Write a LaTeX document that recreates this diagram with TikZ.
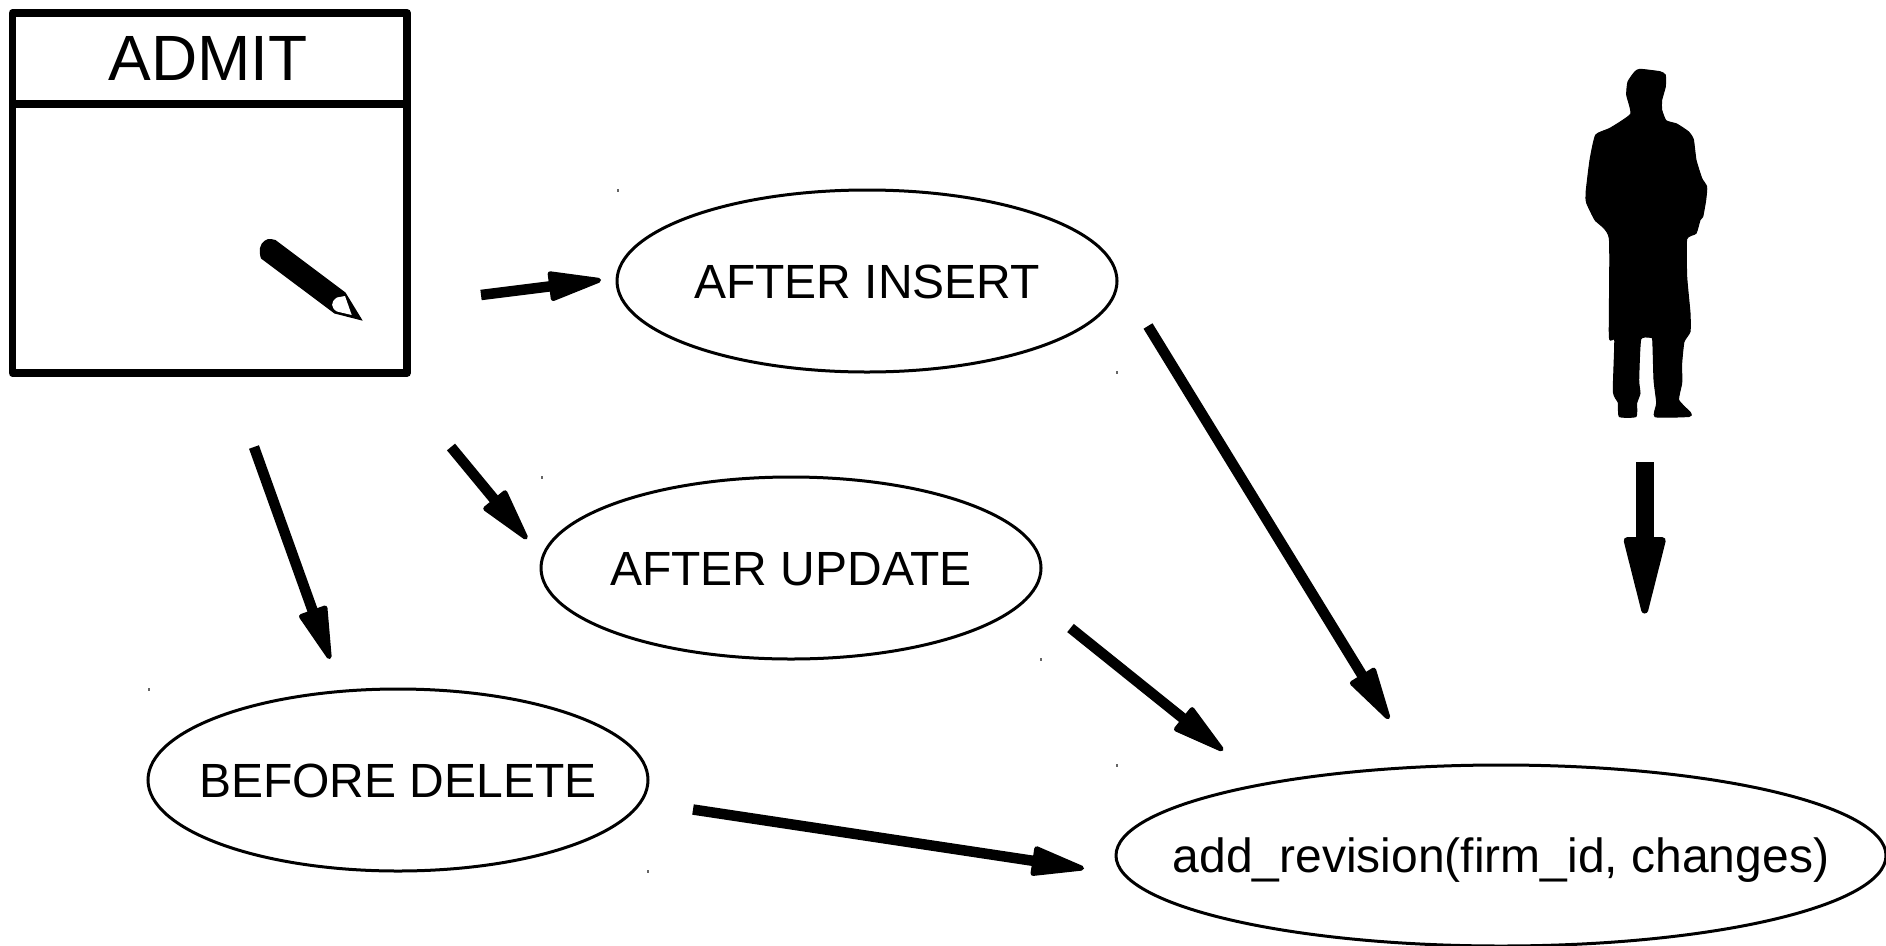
\documentclass[tikz,border=0pt]{standalone}
\usepackage{fontspec}
\setmainfont{Liberation Sans}
\usetikzlibrary{arrows.meta,shapes.geometric}
\newcommand{\ovaltext}[1]{\makebox[0pt]{\raisebox{-17.2pt}[0pt][0pt]{#1}}}
\tikzset{
  x=1pt,y=-1pt,
  oval/.style={draw=black,line width=3pt,ellipse,minimum width=500pt,minimum height=182pt,inner sep=0pt,font=\fontsize{48}{48}\selectfont},
  conn/.style={draw=black,line width=10.5pt,line cap=butt,-{Triangle[length=60pt,width=30pt,round,line width=5pt]}},
  bigconn/.style={draw=black,line width=18pt,line cap=butt,-{Triangle[length=88pt,width=42pt,round,line width=7pt]}},
  speck/.style={fill=black!60,inner sep=0pt,minimum width=1.5pt,minimum height=3pt},
  boxline/.style={draw=black,line width=7.8pt,line join=round}
}
\begin{document}
\begin{tikzpicture}
\useasboundingbox (0,0) rectangle (1886,945);
% ADMIT box
\draw[boxline] (12.5,13) rectangle (407,373);
\draw[boxline,line width=7.2pt] (12.5,104) -- (407,104);
\node[font=\fontsize{64}{64}\selectfont] (admit) at (208,58) {ADMIT};
% pencil
\fill[black,line join=round] (271,239) .. controls (267,238) and (261,242) .. (260,248) .. controls (259.5,252) and (260,256) .. (261,258.5) -- (334.5,313.5) -- (362.7,320.7) -- (345.5,292.5) -- (275.5,240) .. controls (274,239.2) and (272.5,239.2) .. (271,239) -- cycle;
\fill[white] (345,296) -- (351.7,315) -- (337,311.5) .. controls (331,308) and (330,302) .. (337,297.5) -- cycle;
% ovals
\node[oval] (ins) at (867,281) {\ovaltext{AFTER INSERT}};
\node[oval] (upd) at (791,568) {\ovaltext{AFTER UPDATE}};
\node[oval] (del) at (398,780) {\ovaltext{BEFORE DELETE}};
\node[oval,minimum width=770pt,minimum height=181pt] (rev) at (1501,855.5) {\ovaltext{add\_revision(firm\_id, changes)}};
% specks
\node[speck] (s1) at (618,190) {};
\node[speck] (s2) at (1117,372) {};
\node[speck] (s3) at (542,477) {};
\node[speck] (s4) at (1041,659) {};
\node[speck] (s5) at (149,689) {};
\node[speck] (s6) at (648,871) {};
\node[speck] (s7) at (1117,765) {};
% person
\filldraw[black,line width=1pt,line join=round] plot[smooth cycle,tension=0.3] coordinates {
(1640,69.3)(1660,71.7)(1665.3,75)(1665.3,86.7)(1661.7,100)(1661.7,110)(1666,120.7)(1676.7,124)(1688.3,131.7)(1693.3,139.3)(1696,160)(1701.7,178.3)(1706.7,186.7)(1705.7,200)(1702.7,216.7)(1700,220)(1696,233.3)(1686.7,239)(1686.7,276.7)(1690,313)(1690,331.7)(1684,341.7)(1681.7,363)(1681.7,383)(1678.7,400)(1690.7,413)(1689,416.5)(1655,416.7)(1656.7,403)(1654,380)(1652.7,340)(1650,337.3)(1640.7,339.3)(1638.7,380)(1640,393.3)(1636.7,403)(1636,416.5)(1619.3,416.5)(1618.3,402.7)(1613.3,391.7)(1614.7,340)(1609.3,336.7)(1609.3,238.3)(1595,220)(1586.7,203)(1586,193)(1590,160)(1595.7,135)(1610,128.3)(1630.7,114)(1626.7,95)(1628,81.7)(1635,71.7)};
% connector ends
\coordinate (a1) at (481,295); \coordinate (b1) at (601,280);
\coordinate (a2) at (451,447); \coordinate (b2) at (527,539);
\coordinate (a3) at (254,447); \coordinate (b3) at (330,659);
\coordinate (a4) at (693,809.5); \coordinate (b4) at (1084,868.5);
\coordinate (a5) at (1148,326); \coordinate (b5) at (1389,719);
\coordinate (a6) at (1070.5,628); \coordinate (b6) at (1223,750.5);
\coordinate (a7) at (1644.7,462); \coordinate (b7) at (1644.7,613.5);
\draw[conn] (a1) -- (b1);
\draw[conn] (a2) -- (b2);
\draw[conn] (a3) -- (b3);
\draw[conn] (a4) -- (b4);
\draw[conn] (a5) -- (b5);
\draw[conn] (a6) -- (b6);
\draw[bigconn] (a7) -- (b7);
\end{tikzpicture}
\end{document}
